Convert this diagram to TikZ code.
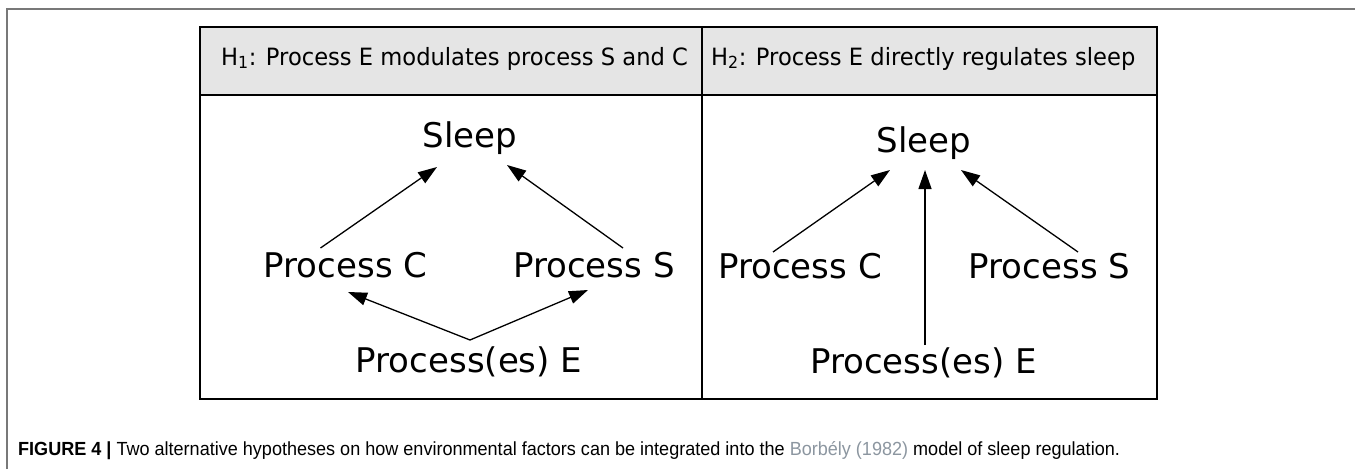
\documentclass[tikz,border=0pt]{standalone}
\usepackage{fontspec}
\setmainfont{DejaVu Sans}
\newfontfamily\headfont{DejaVu Sans}[FakeStretch=0.95]
\newfontfamily\capfont{Liberation Sans}[FakeStretch=0.95]
\usetikzlibrary{arrows.meta}
\usetikzlibrary{calc}
\definecolor{headgrey}{RGB}{229,229,229}
\definecolor{framegrey}{RGB}{120,120,120}
\definecolor{linkgrey}{RGB}{140,150,160}

\begin{document}
\begin{tikzpicture}[x=1pt,y=-1pt,>={Triangle[length=19pt,width=13pt]},
  proc/.style={anchor=base,inner sep=0pt,font=\fontsize{34}{40}\selectfont},
  head/.style={anchor=base west,inner sep=0pt,font=\headfont\fontsize{23.8}{28}\selectfont},
  link/.style={->,line width=1.3pt}]
\useasboundingbox (0,0) rectangle (1355,469);
% page frame
\draw[framegrey,line width=1.2pt] (7,469)--(7,9)--(1355,9);
% table
\fill[headgrey] (200,27) rectangle (1157,95);
\draw[line width=2pt] (200,27) rectangle (1157,399);
\draw[line width=2pt] (200,95)--(1157,95);
\draw[line width=2pt] (702,27)--(702,399);
% headings
\node[head] (h1) at (221,65) {H\textsubscript{1}: Process E modulates process S and C};
\node[head] (h2) at (711,65) {H\textsubscript{2}: Process E directly regulates sleep};
% H1: E acts on C and S
\node[proc] (sleepA) at (470,147) {Sleep};
\node[proc] (procCA) at (345.5,277) {Process C};
\node[proc] (procSA) at (594,277) {Process S};
\node[proc] (procEA) at (469,372) {Process(es) E};
\draw[link] ($(procCA.base)+(-25,-29)$) -- ($(sleepA.base)+(-33,20)$);
\draw[link] ($(procSA.base)+(29,-29)$) -- ($(sleepA.base)+(37,18)$);
\draw[link] ($(procEA.base)+(1,-32)$) -- ($(procCA.base)+(2.5,15)$);
\draw[link] ($(procEA.base)+(1,-32)$) -- ($(procSA.base)+(-6,13)$);
% H2: E acts on sleep itself
\node[proc] (sleepB) at (924,152) {Sleep};
\node[proc] (procCB) at (800,278) {Process C};
\node[proc] (procSB) at (1049.5,278) {Process S};
\node[proc] (procEB) at (923.5,373) {Process(es) E};
\draw[link] ($(procCB.base)+(-27,-26)$) -- ($(sleepB.base)+(-34,18)$);
\draw[link] ($(procEB.base)+(1.5,-28)$) -- ($(sleepB.base)+(1,18)$);
\draw[link] ($(procSB.base)+(28.5,-26)$) -- ($(sleepB.base)+(37,18)$);
% caption
\node[anchor=base west,inner sep=0pt,font=\capfont\fontsize{19}{23}\selectfont] (cap) at (18,455)
  {\textbf{FIGURE 4 |} Two alternative hypotheses on how environmental factors can be integrated into the \textcolor{linkgrey}{Borbély (1982)} model of sleep regulation.};
\end{tikzpicture}
\end{document}
